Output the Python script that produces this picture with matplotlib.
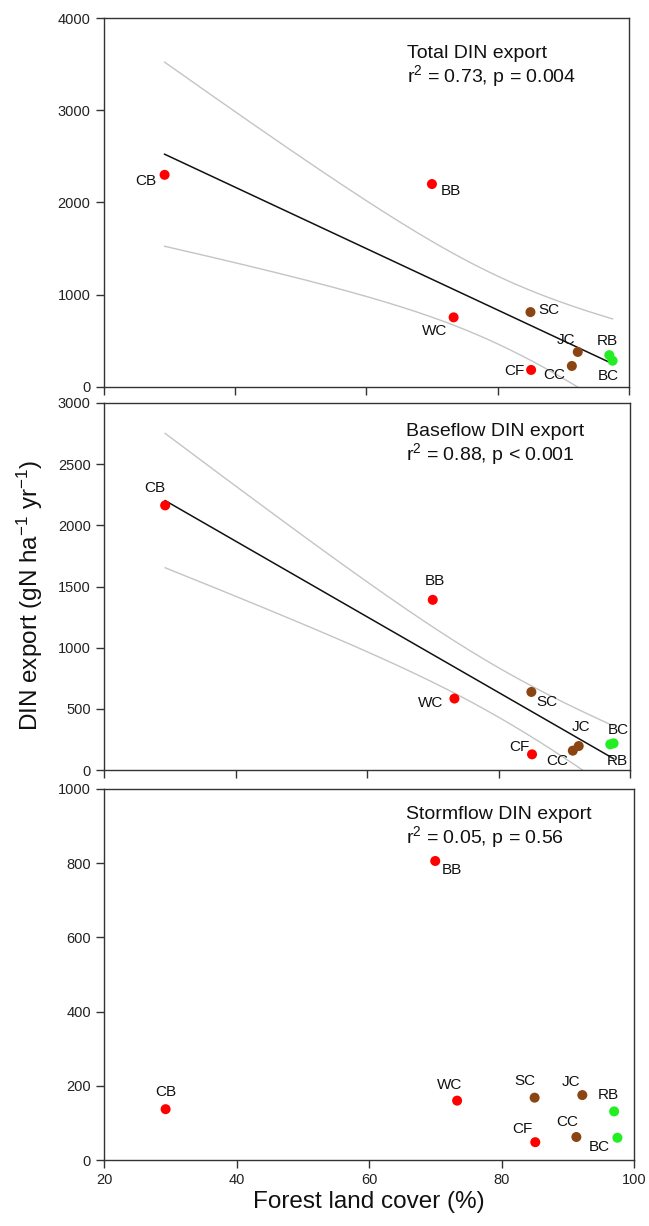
import numpy as np
import matplotlib
matplotlib.use("Agg")
import matplotlib.pyplot as plt

plt.rcParams["font.family"] = ["Liberation Sans", "DejaVu Sans"]
plt.rcParams["mathtext.fontset"] = "custom"
plt.rcParams["mathtext.rm"] = "Liberation Sans"
plt.rcParams["mathtext.it"] = "Liberation Sans:italic"
plt.rcParams["mathtext.bf"] = "Liberation Sans:bold"

# ---- data -------------------------------------------------------------
sites = ["CB", "BB", "WC", "SC", "CF", "CC", "JC", "RB", "BC"]
forest_cover = [29.3, 70.0, 73.3, 85.0, 85.1, 91.3, 92.2, 97.0, 97.5]
site_colors = ["#ff0000", "#ff0000", "#ff0000", "#8b4513", "#ff0000",
               "#8b4513", "#8b4513", "#22ee22", "#22ee22"]

total_din = [2300, 2200, 755, 812, 185, 228, 380, 345, 285]
baseflow_din = [2163, 1391, 584, 638, 128, 158, 196, 210, 218]
stormflow_din = [137, 806, 160, 168, 48, 62, 175, 131, 60]

panel_titles = ["Total DIN export", "Baseflow DIN export", "Stormflow DIN export"]
panel_stats = [r"$\mathregular{r^2}$ = 0.73, p = 0.004",
               r"$\mathregular{r^2}$ = 0.88, p < 0.001",
               r"$\mathregular{r^2}$ = 0.05, p = 0.56"]
y_ticks = [[0, 1000, 2000, 3000, 4000],
           [0, 500, 1000, 1500, 2000, 2500, 3000],
           [0, 200, 400, 600, 800, 1000]]
x_ticks = [20, 40, 60, 80, 100]

# ---- layout (pixels) and label placement -------------------------------
W, H = 649, 1226
axes_px = [(103.5, 18, 629, 387),     # left, top, right, bottom
           (104, 403, 630, 770),
           (104, 789, 634, 1160)]
show_fit = [True, True, False]

# label offsets in pixels (dx, dy) for each site, per panel
label_offsets = [
    {"CB": (-19, -6), "BB": (19, -7), "WC": (-19, -14), "SC": (18, 2),
     "CF": (-17, -1), "CC": (-18, -9), "JC": (-12, 12), "RB": (-2, 14),
     "BC": (-4, -15)},
    {"CB": (-10, 17), "BB": (2, 19), "WC": (-24, -4), "SC": (16, -10),
     "CF": (-13, 7), "CC": (-16, -10), "JC": (2, 19), "RB": (7, -17),
     "BC": (5, 13)},
    {"CB": (0, 17), "BB": (17, -9), "WC": (-7, 16), "SC": (-10, 17),
     "CF": (-13, 13), "CC": (-9, 15), "JC": (-11, 13), "RB": (-6, 16),
     "BC": (-18, -9)},
]
title_pos = [(0.577, 0.892, 0.827), (0.574, 0.911, 0.845), (0.570, 0.920, 0.855)]

T_975_DOF7 = 2.3646


def fit_with_band(x, y, n=200):
    x = np.asarray(x, float)
    y = np.asarray(y, float)
    slope, intercept = np.polyfit(x, y, 1)
    xs = np.linspace(x.min(), x.max(), n)
    yhat = intercept + slope * xs
    resid = y - (intercept + slope * x)
    s = np.sqrt(np.sum(resid ** 2) / (len(x) - 2))
    sxx = np.sum((x - x.mean()) ** 2)
    se = s * np.sqrt(1.0 / len(x) + (xs - x.mean()) ** 2 / sxx)
    return xs, yhat, yhat - T_975_DOF7 * se, yhat + T_975_DOF7 * se


fig = plt.figure(figsize=(W / 100, H / 100), dpi=100)
series = [total_din, baseflow_din, stormflow_din]
axis_color = "#333333"

for i, values in enumerate(series):
    l, t, r, b = axes_px[i]
    ax = fig.add_axes([l / W, 1 - b / H, (r - l) / W, (b - t) / H])

    if show_fit[i]:
        xs, yhat, lo, hi = fit_with_band(forest_cover, values)
        ax.plot(xs, hi, color="#c4c4c4", lw=1.0, zorder=1)
        ax.plot(xs, lo, color="#c4c4c4", lw=1.0, zorder=1)
        ax.plot(xs, yhat, color="#111111", lw=1.1, zorder=2)

    ax.scatter(forest_cover, values, s=52, c=site_colors, edgecolors="none",
               zorder=3)
    for name, xv, yv in zip(sites, forest_cover, values):
        dx, dy = label_offsets[i][name]
        ax.annotate(name, (xv, yv), xytext=(dx, dy), textcoords="offset pixels",
                    ha="center", va="center", fontsize=11, color="#111111")

    tx, ty1, ty2 = title_pos[i]
    ax.text(tx, ty1, panel_titles[i], transform=ax.transAxes, fontsize=14,
            va="baseline", ha="left", color="#111111")
    ax.text(tx, ty2, panel_stats[i], transform=ax.transAxes, fontsize=14,
            va="baseline", ha="left", color="#111111")

    ax.set_xlim(20, 100)
    ax.set_ylim(y_ticks[i][0], y_ticks[i][-1])
    ax.set_xticks(x_ticks)
    ax.set_yticks(y_ticks[i])
    ax.tick_params(direction="out", length=6, width=1, labelsize=10.5,
                   colors=axis_color, labelcolor="#222222")
    if i < 2:
        ax.tick_params(labelbottom=False)
    for sp in ax.spines.values():
        sp.set_color(axis_color)
        sp.set_linewidth(1.0)

fig.text(369 / W, 1 - 1202 / H, "Forest land cover (%)", ha="center",
         va="center", fontsize=17.5, color="#111111")
fig.text(30 / W, 1 - 595 / H,
         r"DIN export (gN ha$^{\mathregular{-1}}$ yr$^{\mathregular{-1}}$)",
         rotation=90, ha="center", va="center", fontsize=17.5, color="#111111")

fig.savefig("out.png", dpi=100)
